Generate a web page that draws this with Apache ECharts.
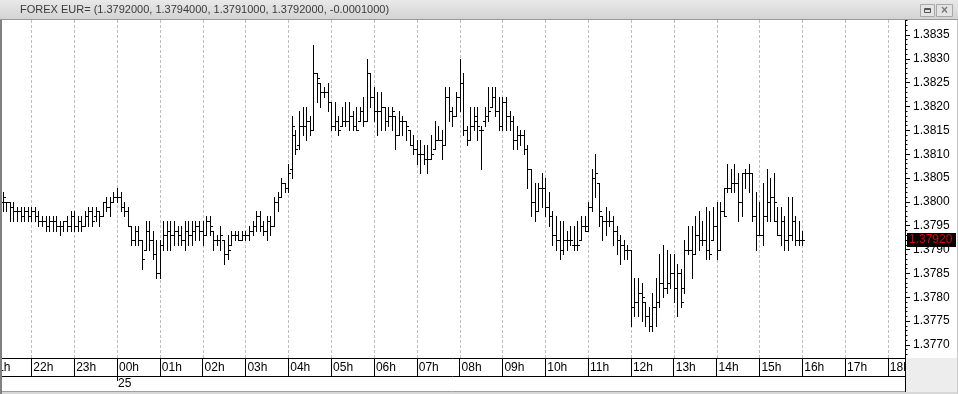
<!DOCTYPE html>
<html><head><meta charset="utf-8">
<script src="https://cdn.jsdelivr.net/npm/echarts@6/dist/echarts.min.js"></script>
<style>html,body{margin:0;padding:0;background:#fff;overflow:hidden}#c{width:958px;height:394px}</style>
</head><body><div id="c"></div>
<script>
// ---- data (5-minute bars, first bar 21:20) ----
const firstBarMinute = 20;   // minutes after 21:00
const barMinutes = 5;
const opens = [
1.3800,1.3800,1.3800,1.3799,1.3798,1.3798,1.3797,1.3798,1.3797,1.3798,1.3797,1.3796,
1.3796,1.3795,1.3796,1.3796,1.3795,1.3795,1.3796,1.3795,1.3797,1.3795,1.3796,1.3795,
1.3797,1.3798,1.3797,1.3798,1.3797,1.3800,1.3799,1.3800,1.3801,1.3801,1.3799,1.3798,
1.3795,1.3792,1.3794,1.3792,1.3790,1.3794,1.3792,1.3789,1.3785,1.3791,1.3793,1.3794,
1.3793,1.3794,1.3793,1.3792,1.3794,1.3793,1.3794,1.3795,1.3794,1.3793,1.3796,1.3794,
1.3792,1.3792,1.3792,1.3789,1.3791,1.3793,1.3793,1.3792,1.3793,1.3793,1.3794,1.3795,
1.3797,1.3795,1.3794,1.3796,1.3795,1.3800,1.3801,1.3804,1.3803,1.3807,1.3814,1.3812,
1.3816,1.3816,1.3817,1.3815,1.3827,1.3825,1.3823,1.3823,1.3821,1.3816,1.3817,1.3816,
1.3817,1.3817,1.3818,1.3816,1.3817,1.3819,1.3817,1.3827,1.3822,1.3819,1.3819,1.3820,
1.3817,1.3818,1.3818,1.3814,1.3817,1.3817,1.3815,1.3812,1.3811,1.3810,1.3810,1.3809,
1.3809,1.3811,1.3813,1.3813,1.3812,1.3822,1.3819,1.3818,1.3822,1.3825,1.3815,1.3813,
1.3816,1.3817,1.3815,1.3817,1.3818,1.3820,1.3822,1.3819,1.3816,1.3821,1.3818,1.3817,
1.3813,1.3814,1.3814,1.3811,1.3807,1.3800,1.3798,1.3803,1.3803,1.3799,1.3797,1.3793,
1.3792,1.3790,1.3792,1.3792,1.3791,1.3791,1.3792,1.3795,1.3794,1.3799,1.3805,1.3804,
1.3797,1.3796,1.3796,1.3796,1.3794,1.3792,1.3791,1.3790,1.3790,1.3778,1.3779,1.3781,
1.3779,1.3776,1.3774,1.3778,1.3779,1.3783,1.3782,1.3783,1.3785,1.3782,1.3785,1.3782,
1.3790,1.3790,1.3789,1.3793,1.3792,1.3792,1.3790,1.3792,1.3795,1.3790,1.3798,1.3803,
1.3803,1.3804,1.3804,1.3800,1.3806,1.3806,1.3806,1.3797,1.3793,1.3793,1.3797,1.3800,
1.3801,1.3796,1.3793,1.3796,1.3792,1.3793,1.3796,1.3792,1.3792];
const highs = [
1.3802,1.3800,1.3800,1.3800,1.3799,1.3799,1.3799,1.3799,1.3799,1.3799,1.3798,1.3797,
1.3797,1.3797,1.3797,1.3797,1.3796,1.3796,1.3797,1.3798,1.3798,1.3797,1.3797,1.3798,
1.3799,1.3799,1.3799,1.3798,1.3800,1.3801,1.3801,1.3802,1.3803,1.3802,1.3800,1.3799,
1.3795,1.3795,1.3795,1.3792,1.3796,1.3796,1.3794,1.3792,1.3792,1.3796,1.3796,1.3796,
1.3796,1.3795,1.3795,1.3796,1.3796,1.3796,1.3796,1.3796,1.3796,1.3797,1.3797,1.3794,
1.3793,1.3795,1.3792,1.3793,1.3794,1.3794,1.3794,1.3794,1.3794,1.3795,1.3796,1.3798,
1.3798,1.3796,1.3797,1.3797,1.3801,1.3802,1.3805,1.3804,1.3808,1.3818,1.3815,1.3819,
1.3820,1.3820,1.3818,1.3833,1.3827,1.3825,1.3824,1.3825,1.3821,1.3821,1.3818,1.3820,
1.3821,1.3821,1.3819,1.3820,1.3820,1.3822,1.3830,1.3827,1.3824,1.3823,1.3823,1.3820,
1.3820,1.3820,1.3818,1.3819,1.3818,1.3817,1.3815,1.3814,1.3813,1.3813,1.3812,1.3812,
1.3814,1.3817,1.3816,1.3815,1.3824,1.3824,1.3820,1.3823,1.3830,1.3827,1.3816,1.3820,
1.3820,1.3820,1.3816,1.3820,1.3824,1.3824,1.3824,1.3822,1.3822,1.3822,1.3819,1.3818,
1.3816,1.3815,1.3815,1.3812,1.3807,1.3804,1.3804,1.3806,1.3805,1.3802,1.3798,1.3797,
1.3796,1.3796,1.3794,1.3795,1.3795,1.3796,1.3797,1.3797,1.3800,1.3807,1.3810,1.3804,
1.3797,1.3799,1.3798,1.3797,1.3795,1.3793,1.3792,1.3791,1.3790,1.3784,1.3784,1.3783,
1.3779,1.3778,1.3781,1.3784,1.3789,1.3791,1.3790,1.3789,1.3789,1.3787,1.3786,1.3792,
1.3795,1.3795,1.3797,1.3798,1.3796,1.3799,1.3798,1.3799,1.3800,1.3800,1.3803,1.3808,
1.3807,1.3808,1.3806,1.3806,1.3807,1.3808,1.3806,1.3802,1.3800,1.3804,1.3807,1.3805,
1.3806,1.3799,1.3799,1.3797,1.3801,1.3801,1.3797,1.3796,1.3794];
const lows = [
1.3798,1.3798,1.3796,1.3796,1.3796,1.3796,1.3796,1.3796,1.3796,1.3796,1.3795,1.3795,
1.3794,1.3794,1.3794,1.3794,1.3793,1.3794,1.3794,1.3794,1.3794,1.3794,1.3794,1.3795,
1.3795,1.3795,1.3796,1.3795,1.3797,1.3798,1.3797,1.3800,1.3800,1.3798,1.3797,1.3795,
1.3791,1.3791,1.3791,1.3786,1.3790,1.3790,1.3788,1.3784,1.3784,1.3790,1.3790,1.3790,
1.3791,1.3791,1.3791,1.3790,1.3791,1.3791,1.3792,1.3792,1.3791,1.3793,1.3793,1.3790,
1.3791,1.3790,1.3787,1.3788,1.3791,1.3792,1.3792,1.3792,1.3792,1.3792,1.3793,1.3794,
1.3794,1.3793,1.3792,1.3793,1.3795,1.3798,1.3801,1.3802,1.3802,1.3805,1.3810,1.3811,
1.3814,1.3813,1.3814,1.3815,1.3821,1.3820,1.3822,1.3819,1.3815,1.3815,1.3814,1.3816,
1.3816,1.3815,1.3815,1.3815,1.3817,1.3816,1.3817,1.3820,1.3817,1.3814,1.3815,1.3815,
1.3816,1.3815,1.3811,1.3814,1.3814,1.3813,1.3812,1.3810,1.3808,1.3806,1.3808,1.3806,
1.3809,1.3811,1.3813,1.3809,1.3812,1.3817,1.3816,1.3818,1.3819,1.3814,1.3812,1.3813,
1.3815,1.3813,1.3807,1.3816,1.3817,1.3820,1.3818,1.3815,1.3815,1.3815,1.3815,1.3811,
1.3811,1.3812,1.3810,1.3803,1.3797,1.3796,1.3798,1.3799,1.3797,1.3795,1.3791,1.3790,
1.3788,1.3789,1.3790,1.3791,1.3790,1.3790,1.3792,1.3794,1.3794,1.3798,1.3801,1.3795,
1.3792,1.3793,1.3795,1.3791,1.3789,1.3787,1.3788,1.3788,1.3774,1.3776,1.3776,1.3775,
1.3774,1.3773,1.3773,1.3774,1.3778,1.3780,1.3781,1.3782,1.3779,1.3776,1.3778,1.3781,
1.3789,1.3784,1.3789,1.3790,1.3791,1.3788,1.3788,1.3792,1.3788,1.3790,1.3797,1.3802,
1.3802,1.3802,1.3796,1.3797,1.3803,1.3802,1.3796,1.3790,1.3793,1.3791,1.3796,1.3796,
1.3796,1.3793,1.3791,1.3790,1.3790,1.3792,1.3791,1.3791,1.3791];
const closes = [
1.3801,1.3800,1.3799,1.3798,1.3798,1.3797,1.3798,1.3797,1.3798,1.3797,1.3796,1.3796,
1.3795,1.3796,1.3796,1.3795,1.3795,1.3796,1.3795,1.3797,1.3795,1.3796,1.3795,1.3797,
1.3798,1.3796,1.3798,1.3797,1.3800,1.3799,1.3800,1.3801,1.3801,1.3799,1.3798,1.3795,
1.3792,1.3794,1.3792,1.3788,1.3794,1.3792,1.3789,1.3785,1.3791,1.3793,1.3794,1.3793,
1.3794,1.3793,1.3792,1.3794,1.3793,1.3794,1.3795,1.3794,1.3793,1.3796,1.3795,1.3792,
1.3792,1.3793,1.3789,1.3790,1.3793,1.3793,1.3792,1.3793,1.3793,1.3794,1.3795,1.3797,
1.3795,1.3794,1.3796,1.3795,1.3800,1.3801,1.3804,1.3803,1.3806,1.3816,1.3811,1.3816,
1.3816,1.3817,1.3815,1.3827,1.3826,1.3823,1.3823,1.3821,1.3816,1.3817,1.3815,1.3817,
1.3817,1.3818,1.3816,1.3815,1.3819,1.3817,1.3827,1.3822,1.3819,1.3819,1.3820,1.3817,
1.3818,1.3819,1.3814,1.3817,1.3817,1.3816,1.3812,1.3811,1.3810,1.3810,1.3809,1.3809,
1.3810,1.3813,1.3813,1.3812,1.3822,1.3819,1.3818,1.3822,1.3825,1.3815,1.3813,1.3816,
1.3818,1.3816,1.3815,1.3818,1.3819,1.3822,1.3819,1.3816,1.3821,1.3818,1.3817,1.3813,
1.3814,1.3814,1.3811,1.3807,1.3800,1.3798,1.3803,1.3803,1.3799,1.3797,1.3793,1.3792,
1.3790,1.3792,1.3792,1.3792,1.3791,1.3791,1.3795,1.3795,1.3799,1.3805,1.3806,1.3798,
1.3796,1.3796,1.3796,1.3794,1.3792,1.3791,1.3790,1.3790,1.3778,1.3779,1.3781,1.3780,
1.3776,1.3774,1.3778,1.3779,1.3783,1.3782,1.3783,1.3785,1.3782,1.3785,1.3779,1.3790,
1.3790,1.3789,1.3793,1.3792,1.3792,1.3790,1.3789,1.3795,1.3790,1.3798,1.3797,1.3803,
1.3804,1.3804,1.3800,1.3806,1.3806,1.3806,1.3797,1.3793,1.3793,1.3797,1.3800,1.3801,
1.3800,1.3793,1.3796,1.3792,1.3793,1.3796,1.3792,1.3792,1.3792];
const hourLabels = ['21h','22h','23h','00h','01h','02h','03h','04h','05h','06h','07h',
  '08h','09h','10h','11h','12h','13h','14h','15h','16h','17h','18h'];
const priceLabels = [1.3770,1.3775,1.3780,1.3785,1.3790,1.3795,1.3800,1.3805,1.3810,
  1.3815,1.3820,1.3825,1.3830,1.3835];
const dateLabel = '25';
const dateLabelHourIndex = 3;   // under 00h
const lastPrice = 1.3792;
const lastPriceText = '1.37920';
const headerText = 'FOREX EUR= (1.3792000, 1.3794000, 1.3791000, 1.3792000, -0.0001000)';

// ---- build ----
const bars = opens.map((o, i) => [firstBarMinute + i * barMinutes, o, highs[i], lows[i], closes[i]]);
const hourValues = hourLabels.map((_, i) => i * 60);
const minorTicks = [];
for (let k = 13767; k <= 13838; k++) minorTicks.push(k / 10000);

const X_MIN = 16.15, X_MAX = 1284;
const Y_MIN = 1.376727, Y_MAX = 1.383814;
const chart = echarts.init(document.getElementById('c'), null, {renderer: 'canvas'});
const font = 'Liberation Sans, Arial, sans-serif';
const visibleHours = hourValues.filter(v => v >= X_MIN && v <= X_MAX);

const baseGraphic = [
  {type: 'rect', z: 100, shape: {x: 0, y: 0, width: 958, height: 20},
    style: {fill: new echarts.graphic.LinearGradient(0, 0, 0, 1, [
      {offset: 0, color: '#e9e9e9'}, {offset: 1, color: '#d2d2d2'}])}},
  {type: 'line', z: 101, shape: {x1: 0, y1: 19.5, x2: 958, y2: 19.5}, style: {stroke: '#9a9a9a', lineWidth: 1}},
  {type: 'text', z: 101, x: 20, y: 10, style: {text: headerText, fill: '#3a3a3a',
    font: '11px Liberation Sans, Arial, sans-serif', textVerticalAlign: 'middle'}},
  {type: 'rect', z: 101, shape: {x: 920.5, y: 4.5, width: 14, height: 12},
    style: {fill: '#e4e4e4', stroke: '#a8a8a8', lineWidth: 1}},
  {type: 'rect', z: 102, shape: {x: 924.5, y: 8.5, width: 6, height: 4},
    style: {fill: 'none', stroke: '#555', lineWidth: 1}},
  {type: 'line', z: 102, shape: {x1: 924.5, y1: 9.5, x2: 930.5, y2: 9.5}, style: {stroke: '#555', lineWidth: 1}},
  {type: 'rect', z: 101, shape: {x: 936.5, y: 4.5, width: 16, height: 12},
    style: {fill: '#e4e4e4', stroke: '#a8a8a8', lineWidth: 1}},
  {type: 'text', z: 102, x: 944.5, y: 10.5, style: {text: '×', fill: '#777',
    font: 'bold 12px Liberation Sans, Arial, sans-serif', textAlign: 'center', textVerticalAlign: 'middle'}},
  {type: 'rect', z: 100, shape: {x: 905, y: 358, width: 53, height: 36}, style: {fill: '#ededed'}},
  {type: 'line', z: 101, shape: {x1: 905.5, y1: 358, x2: 905.5, y2: 392}, style: {stroke: '#000', lineWidth: 1}},
  {type: 'rect', z: 100, shape: {x: 0, y: 392, width: 958, height: 2}, style: {fill: '#d8d8d8'}},
  {type: 'line', z: 101, shape: {x1: 0, y1: 391.5, x2: 905, y2: 391.5}, style: {stroke: '#a0a0a0', lineWidth: 1}},
  {type: 'rect', z: 101, shape: {x: 0, y: 20, width: 2, height: 374}, style: {fill: '#808080'}},
  {type: 'rect', z: 101, shape: {x: 957, y: 20, width: 1, height: 374}, style: {fill: '#c8c8c8'}}
];

chart.setOption({
  animation: false,
  backgroundColor: '#ffffff',
  grid: {left: 0, right: 53, top: 20, bottom: 36},
  xAxis: [{
    type: 'value', min: X_MIN, max: X_MAX, position: 'bottom',
    axisLine: {show: true, lineStyle: {color: '#000', width: 1}},
    axisTick: {show: true, length: 18, lineStyle: {color: '#000'}, customValues: visibleHours},
    axisLabel: {show: true, customValues: visibleHours, align: 'left', margin: 4,
      verticalAlign: 'top', padding: [0, 0, 0, 2], color: '#000', fontSize: 12, fontFamily: font,
      formatter: v => hourLabels[Math.round(v / 60)] || ''},
    splitLine: {show: false}
  }, {
    type: 'value', min: X_MIN, max: X_MAX, position: 'bottom', offset: 18,
    axisLine: {show: true, lineStyle: {color: '#000', width: 1}},
    axisTick: {show: true, length: 5, lineStyle: {color: '#000'}, customValues: [hourValues[dateLabelHourIndex]]},
    axisLabel: {show: true, customValues: [hourValues[dateLabelHourIndex]], align: 'left', margin: 2,
      verticalAlign: 'top', padding: [0, 0, 0, 1], color: '#000', fontSize: 12, fontFamily: font,
      formatter: () => dateLabel},
    splitLine: {show: false}
  }],
  yAxis: [{
    type: 'value', position: 'right', min: Y_MIN, max: Y_MAX, scale: true,
    axisLine: {show: true, lineStyle: {color: '#000', width: 1}},
    axisTick: {show: true, length: 5, lineStyle: {color: '#000'}, customValues: priceLabels},
    axisLabel: {show: true, customValues: priceLabels, margin: 8, color: '#000', fontSize: 12,
      fontFamily: font, formatter: v => v.toFixed(4)},
    splitLine: {show: false}
  }, {
    type: 'value', position: 'right', min: Y_MIN, max: Y_MAX, scale: true,
    axisLine: {show: false},
    axisTick: {show: true, length: 2.5, lineStyle: {color: '#000'}, customValues: minorTicks},
    axisLabel: {show: false},
    splitLine: {show: false}
  }],
  series: [{
    type: 'custom',
    xAxisIndex: 0, yAxisIndex: 0,
    clip: true,
    z: 5,
    data: bars,
    encode: {x: 0, y: [1, 2, 3, 4]},
    renderItem: function (params, api) {
      const x = api.value(0);
      const pO = api.coord([x, api.value(1)]);
      const pH = api.coord([x, api.value(2)]);
      const pL = api.coord([x, api.value(3)]);
      const pC = api.coord([x, api.value(4)]);
      const cx = Math.round(pH[0]) + 0.5;
      const st = {stroke: '#000', lineWidth: 1};
      const yo = Math.round(pO[1]) + 0.5, yc = Math.round(pC[1]) + 0.5;
      return {type: 'group', children: [
        {type: 'line', shape: {x1: cx, y1: Math.round(pH[1]), x2: cx, y2: Math.round(pL[1]) + 1}, style: st},
        {type: 'line', shape: {x1: cx - 2.5, y1: yo, x2: cx - 0.5, y2: yo}, style: st},
        {type: 'line', shape: {x1: cx + 0.5, y1: yc, x2: cx + 2.5, y2: yc}, style: st}
      ]};
    }
  }],
  graphic: baseGraphic
});

// hour grid lines, the clipped 21h label and the last-price tag, placed through the axis scales
const extra = [];
const yTop = chart.convertToPixel({yAxisIndex: 0}, Y_MAX);
const yBot = chart.convertToPixel({yAxisIndex: 0}, Y_MIN);
visibleHours.forEach(v => {
  const px = Math.round(chart.convertToPixel({xAxisIndex: 0}, v)) + 0.5;
  extra.push({type: 'line', z: 1, silent: true, shape: {x1: px, y1: yTop, x2: px, y2: yBot},
    style: {stroke: '#bdbdbd', lineWidth: 1, lineDash: [3, 2]}});
});
const x21 = chart.convertToPixel({xAxisIndex: 0}, hourValues[0]);
extra.push({type: 'text', z: 50, x: x21 + 2, y: yBot + 4, style: {text: hourLabels[0], fill: '#000',
  font: '12px Liberation Sans, Arial, sans-serif', textVerticalAlign: 'top'}});
const yLast = Math.round(chart.convertToPixel({yAxisIndex: 0}, lastPrice));
extra.push({type: 'rect', z: 110, shape: {x: 907, y: yLast - 7, width: 49, height: 14}, style: {fill: '#000'}});
extra.push({type: 'text', z: 111, x: 909, y: yLast, style: {text: lastPriceText, fill: '#e00000',
  font: '12px Liberation Sans, Arial, sans-serif', textVerticalAlign: 'middle'}});
chart.setOption({graphic: baseGraphic.concat(extra)});
</script></body></html>
